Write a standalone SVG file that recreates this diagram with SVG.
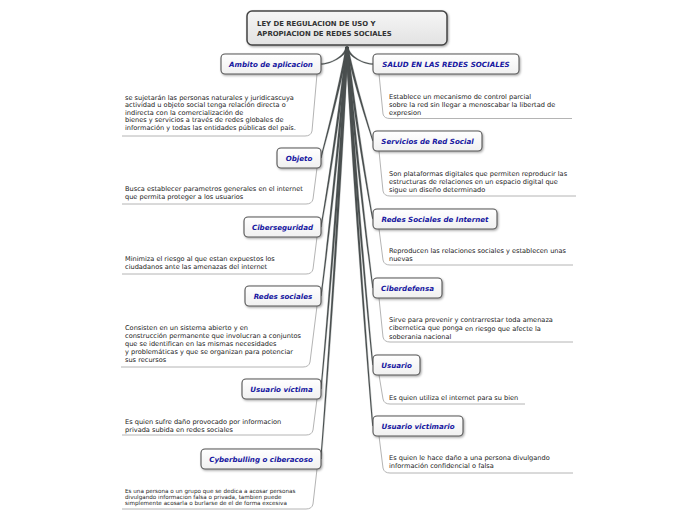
<svg xmlns="http://www.w3.org/2000/svg" width="696" height="520" viewBox="0 0 696 520">
<defs>
<linearGradient id="gRoot" x1="0" y1="0" x2="0" y2="1"><stop offset="0" stop-color="#f6f6f6"/><stop offset="1" stop-color="#e2e2e2"/></linearGradient>
<linearGradient id="gNode" x1="0" y1="0" x2="0" y2="1"><stop offset="0" stop-color="#ffffff"/><stop offset="1" stop-color="#f0f0f0"/></linearGradient>
<filter id="sh" x="-10%" y="-20%" width="120%" height="160%"><feDropShadow dx="1" dy="1.2" stdDeviation="0.9" flood-color="#000" flood-opacity="0.35"/></filter>
</defs>
<style>
.root{fill:url(#gRoot);stroke:#444;stroke-width:1.5;filter:url(#sh)}
.rt{font-family:"DejaVu Sans",sans-serif;font-size:6.9px;font-weight:bold;fill:#333}
.box{fill:url(#gNode);stroke:#555;stroke-width:1.1;filter:url(#sh)}
.lbl{font-family:"DejaVu Sans",sans-serif;font-size:7.1px;font-weight:bold;font-style:italic;fill:#1515a0;text-anchor:middle}
.d{font-family:"DejaVu Sans",sans-serif;font-size:6.6px;fill:#222}
.ds{font-family:"DejaVu Sans",sans-serif;font-size:5.65px;fill:#222}
.con{fill:#4a4f4f;stroke:#4a4f4f;stroke-width:0.25}
.sub{fill:none;stroke:#b4b4b4;stroke-width:1}
</style>
<rect width="696" height="520" fill="#ffffff"/>
<g id="connectors">
<path class="con" d="M345.8,47 C343.8,57 330,63.5 321,63.5 L321,64.5 C330,64.5 346.2,57 348.2,47 Z"/>
<path class="con" d="M345.8,47 C338,91 323.5,146 320.5,158 L321.5,158 C324.5,146 340.4,91 348.2,47 Z"/>
<path class="con" d="M345.8,47 C338,119 323.5,213 320.5,227 L321.5,227 C324.5,213 340.4,119 348.2,47 Z"/>
<path class="con" d="M345.8,47 C338,147 323.5,276 320.5,296 L321.5,296 C324.5,276 340.4,147 348.2,47 Z"/>
<path class="con" d="M345.8,47 C338,184 323.5,362 320.5,389 L321.5,389 C324.5,362 340.4,184 348.2,47 Z"/>
<path class="con" d="M345.8,47 C338,212 323.5,426 320.5,459 L321.5,459 C324.5,426 340.4,212 348.2,47 Z"/>
<path class="con" d="M348.2,47 C350.2,57 364,63.5 373,63.5 L373,64.5 C364,64.5 347.8,57 345.8,47 Z"/>
<path class="con" d="M348.2,47 C356,84.6 370.5,131 373.5,141 L372.5,141 C369.5,131 353.6,84.6 345.8,47 Z"/>
<path class="con" d="M348.2,47 C356,116 370.5,205 373.5,219 L372.5,219 C369.5,205 353.6,116 345.8,47 Z"/>
<path class="con" d="M348.2,47 C356,143 370.5,269 373.5,288 L372.5,288 C369.5,269 353.6,143 345.8,47 Z"/>
<path class="con" d="M348.2,47 C356,174 370.5,340 373.5,365 L372.5,365 C369.5,340 353.6,174 345.8,47 Z"/>
<path class="con" d="M348.2,47 C356,199 370.5,396 373.5,426 L372.5,426 C369.5,396 353.6,199 345.8,47 Z"/>
<path class="sub" d="M317,74 L312,131 Q311,136 305,136 L122,136"/>
<path class="sub" d="M317,168 L313,199 Q312,204 306,204 L122,204"/>
<path class="sub" d="M317,237 L313,269 Q312,274 306,274 L122,274"/>
<path class="sub" d="M317,306 L310,362 Q309,367 303,367 L121,367"/>
<path class="sub" d="M317,399 L313,430 Q312,435 306,435 L122,435"/>
<path class="sub" d="M317,469 L313,504 Q312,509 306,509 L122,509"/>
<path class="sub" d="M379,74 L383,114 Q384,118.5 390,118.5 L572,118.5"/>
<path class="sub" d="M379,151 L383,191 Q384,196 390,196 L576,196"/>
<path class="sub" d="M379,229 L383,260 Q384,265 390,265 L573,265"/>
<path class="sub" d="M379,298 L383,337 Q384,342 390,342 L573,342"/>
<path class="sub" d="M379,375 L383,399 Q384,404 390,404 L525,404"/>
<path class="sub" d="M379,436 L383,468 Q384,473 390,473 L573,473"/>
</g>
<g id="root">
<rect class="root" x="247" y="11" width="200" height="34" rx="5"/>
<text class="rt" x="257" y="26">LEY DE REGULACION DE USO Y</text>
<text class="rt" x="257" y="36">APROPIACION DE REDES SOCIALES</text>
</g>
<g id="ambito">
<rect class="box" x="221" y="54" width="100" height="20" rx="4"/>
<text class="lbl" x="271" y="66.5">Ambito de aplicacion</text>
<text class="d" x="125" y="99.5">se sujetarán las personas naturales y juridicascuya</text>
<text class="d" x="125" y="107">actividad u objeto social tenga relación directa o</text>
<text class="d" x="125" y="114.5">indirecta con la comercialización de</text>
<text class="d" x="125" y="122">bienes y servicios a través de redes globales de</text>
<text class="d" x="125" y="129.5">información y todas las entidades públicas del país.</text>
</g>
<g id="objeto">
<rect class="box" x="277" y="148" width="44" height="20" rx="4"/>
<text class="lbl" x="299" y="160.5">Objeto</text>
<text class="d" x="125" y="191">Busca establecer parametros generales en el internet</text>
<text class="d" x="125" y="199">que permita proteger a los usuarios</text>
</g>
<g id="ciberseguridad">
<rect class="box" x="244" y="217" width="77" height="20" rx="4"/>
<text class="lbl" x="282.5" y="229.5">Ciberseguridad</text>
<text class="d" x="125" y="260.5">Minimiza el riesgo al que estan expuestos los</text>
<text class="d" x="125" y="269">ciudadanos ante las amenazas del internet</text>
</g>
<g id="redes-sociales">
<rect class="box" x="245" y="286" width="76" height="20" rx="4"/>
<text class="lbl" x="283" y="298.5">Redes sociales</text>
<text class="d" x="125" y="330">Consisten en un sistema abierto y en</text>
<text class="d" x="125" y="338">construcción permanente que involucran a conjuntos</text>
<text class="d" x="125" y="346">que se identifican en las mismas necesidades</text>
<text class="d" x="125" y="354">y problemáticas y que se organizan para potenciar</text>
<text class="d" x="125" y="362">sus recursos</text>
</g>
<g id="usuario-victima">
<rect class="box" x="242" y="379" width="79" height="20" rx="4"/>
<text class="lbl" x="281.5" y="391.5">Usuario víctima</text>
<text class="d" x="125" y="423.5">Es quien sufre daño provocado por informacion</text>
<text class="d" x="125" y="431.5">privada subida en redes sociales</text>
</g>
<g id="cyberbulling">
<rect class="box" x="201" y="449" width="120" height="20" rx="4"/>
<text class="lbl" x="261" y="461.5">Cyberbulling o ciberacoso</text>
<text class="ds" x="125" y="492.5">Es una persona o un grupo que se dedica a acosar personas</text>
<text class="ds" x="125" y="498.5">divulgando informacion falsa o privada, tambien puede</text>
<text class="ds" x="125" y="504.5">simplemente acosarla o burlarse de el <tspan dy="0.8">de forma excesiva</tspan></text>
</g>
<g id="salud">
<rect class="box" x="373" y="54" width="146" height="20" rx="4"/>
<text class="lbl" x="446" y="66.5">SALUD EN LAS REDES SOCIALES</text>
<text class="d" x="389" y="99">Establece un mecanismo de control parcial</text>
<text class="d" x="389" y="107">sobre la red sin llegar a menoscabar la libertad de</text>
<text class="d" x="389" y="115">expresion</text>
</g>
<g id="servicios">
<rect class="box" x="373" y="131" width="109" height="20" rx="4"/>
<text class="lbl" x="427.5" y="143.5">Servicios de Red Social</text>
<text class="d" x="389" y="175.5">Son plataformas digitales que permiten reproducir las</text>
<text class="d" x="389" y="183.5">estructuras de relaciones en un espacio digital que</text>
<text class="d" x="389" y="191.5">sigue un diseño determinado</text>
</g>
<g id="redes-internet">
<rect class="box" x="373" y="209" width="124" height="20" rx="4"/>
<text class="lbl" x="435" y="221.5">Redes Sociales de Internet</text>
<text class="d" x="389" y="252.5">Reproducen las relaciones sociales y establecen unas</text>
<text class="d" x="389" y="260.5">nuevas</text>
</g>
<g id="ciberdefensa">
<rect class="box" x="373" y="278" width="69" height="20" rx="4"/>
<text class="lbl" x="407.5" y="290.5">Ciberdefensa</text>
<text class="d" x="389" y="321.5">Sirve para prevenir y contrarrestar toda amenaza</text>
<text class="d" x="389" y="330">cibernetica que ponga <tspan dy="0.8">en riesgo que afecte la</tspan></text>
<text class="d" x="389" y="339">soberania nacional</text>
</g>
<g id="usuario">
<rect class="box" x="373" y="355" width="47" height="20" rx="4"/>
<text class="lbl" x="396.5" y="367.5">Usuario</text>
<text class="d" x="389" y="399.5">Es quien utiliza el internet para su bien</text>
</g>
<g id="usuario-victimario">
<rect class="box" x="373" y="416" width="90" height="20" rx="4"/>
<text class="lbl" x="418" y="428.5">Usuario victimario</text>
<text class="d" x="389" y="459.5">Es quien le hace daño <tspan dy="0.8">a una persona divulgando</tspan></text>
<text class="d" x="389" y="468">información confidencial o falsa</text>
</g>
</svg>
